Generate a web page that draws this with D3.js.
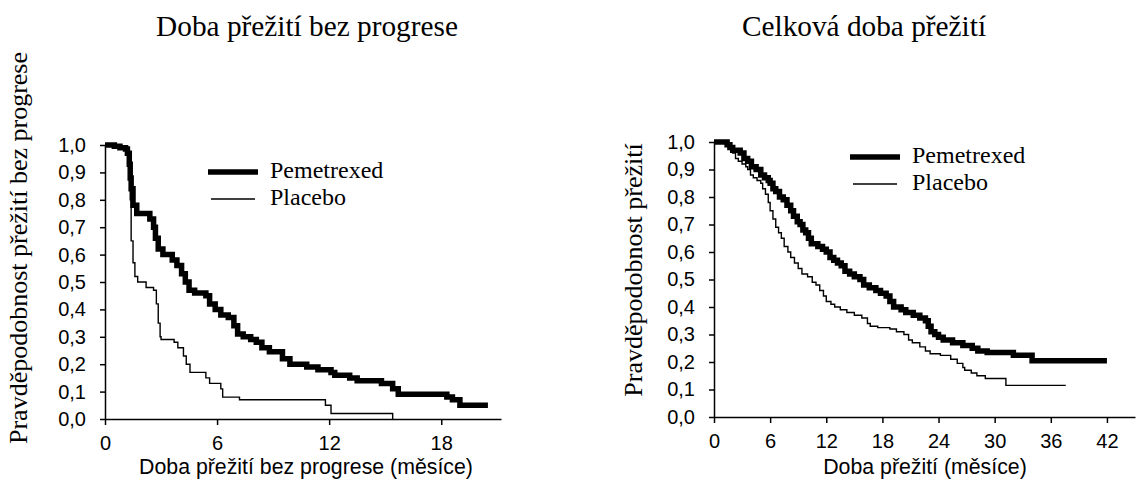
<!DOCTYPE html>
<html><head><meta charset="utf-8">
<script src="https://cdn.jsdelivr.net/npm/d3@7"></script>
<style>body{margin:0;background:#fff}</style>
</head><body>
<svg id="c" width="1137" height="483"></svg>
<script>
// ---- Data (months, survival probability) ----
const pfsPemetrexed = [[0,1.0],[0.5,0.995],[0.8,0.99],[1.1,0.985],[1.2,0.97],[1.3,0.93],[1.35,0.88],[1.4,0.84],[1.5,0.78],[1.7,0.75],[2.4,0.73],[2.6,0.70],[2.7,0.66],[2.85,0.62],[3.1,0.60],[3.6,0.58],[3.85,0.56],[4.1,0.53],[4.3,0.50],[4.5,0.47],[4.8,0.46],[5.4,0.45],[5.6,0.42],[5.9,0.40],[6.2,0.38],[6.6,0.37],[6.9,0.34],[7.1,0.31],[7.4,0.30],[7.8,0.29],[8.1,0.28],[8.4,0.26],[8.8,0.245],[9.5,0.22],[9.9,0.20],[10.8,0.19],[11.4,0.18],[12.1,0.17],[12.3,0.16],[13.1,0.15],[13.5,0.14],[14.8,0.13],[15.4,0.11],[15.7,0.09],[18.3,0.08],[18.6,0.07],[19.0,0.05],[20.5,0.05]];
const pfsPlacebo = [[0,1.0],[0.5,0.995],[0.8,0.99],[1.1,0.985],[1.25,0.97],[1.35,0.8],[1.4,0.65],[1.5,0.57],[1.6,0.52],[1.75,0.50],[2.2,0.48],[2.6,0.47],[2.75,0.42],[2.85,0.35],[2.95,0.30],[3.0,0.29],[3.7,0.28],[3.9,0.26],[4.2,0.23],[4.35,0.20],[4.55,0.17],[5.4,0.15],[5.6,0.13],[6.2,0.11],[6.3,0.08],[7.2,0.07],[11.8,0.05],[12.1,0.02],[15.4,0.0]];
const osPemetrexed = [[0,1.0],[1.4,0.99],[1.7,0.98],[2.0,0.97],[2.8,0.96],[3.2,0.94],[3.6,0.93],[4.0,0.91],[4.5,0.90],[5.0,0.88],[5.4,0.87],[5.8,0.86],[6.0,0.85],[6.3,0.83],[6.6,0.82],[7.0,0.80],[7.4,0.79],[7.8,0.77],[8.2,0.75],[8.5,0.73],[8.9,0.71],[9.2,0.70],[9.5,0.68],[9.8,0.67],[10.1,0.65],[10.4,0.63],[11.1,0.62],[11.6,0.61],[12.0,0.60],[12.4,0.58],[12.8,0.57],[13.2,0.56],[13.6,0.55],[14.0,0.53],[14.5,0.52],[15.0,0.51],[15.6,0.50],[16.0,0.48],[16.6,0.47],[17.3,0.46],[17.8,0.45],[18.4,0.44],[18.8,0.42],[19.2,0.40],[20.0,0.39],[20.5,0.38],[21.3,0.37],[22.0,0.36],[22.6,0.35],[22.9,0.33],[23.2,0.31],[23.6,0.30],[24.0,0.29],[24.5,0.28],[25.5,0.27],[26.6,0.26],[27.6,0.25],[28.2,0.24],[29.2,0.235],[32.0,0.225],[34.0,0.205],[42.0,0.205]];
const osPlacebo = [[0,1.0],[1.3,0.99],[1.6,0.98],[2.0,0.96],[2.3,0.94],[2.6,0.93],[3.0,0.92],[3.4,0.91],[3.6,0.90],[3.9,0.88],[4.2,0.87],[4.6,0.86],[5.0,0.85],[5.2,0.83],[5.5,0.81],[5.8,0.78],[6.0,0.75],[6.3,0.72],[6.6,0.69],[6.9,0.67],[7.2,0.65],[7.5,0.62],[7.9,0.60],[8.2,0.58],[8.6,0.56],[9.0,0.54],[9.4,0.52],[10.0,0.51],[10.5,0.49],[10.9,0.48],[11.3,0.46],[11.7,0.44],[12.0,0.42],[12.5,0.41],[12.9,0.40],[13.5,0.39],[14.2,0.38],[15.0,0.37],[15.8,0.36],[16.4,0.34],[16.7,0.33],[17.5,0.325],[18.8,0.32],[19.5,0.31],[20.3,0.30],[20.8,0.28],[21.2,0.27],[22.0,0.255],[22.6,0.24],[23.1,0.23],[24.2,0.224],[25.3,0.21],[26.0,0.195],[26.6,0.18],[26.8,0.17],[27.5,0.16],[28.1,0.15],[29.0,0.14],[31.2,0.115],[37.6,0.115]];

const yTicks = [0,0.1,0.2,0.3,0.4,0.5,0.6,0.7,0.8,0.9,1.0];
const pfsXTicks = [0,6,12,18];
const osXTicks = [0,6,12,18,24,30,36,42];
const seriesNames = ["Pemetrexed","Placebo"];
const titles = ["Doba přežití bez progrese","Celková doba přežití"];
const yTitles = ["Pravděpodobnost přežití bez progrese","Pravděpodobnost přežití"];
const xTitles = ["Doba přežití bez progrese (měsíce)","Doba přežití (měsíce)"];

const SERIF = "'Liberation Serif','Times New Roman',serif";
const SANS = "'Liberation Sans',Arial,sans-serif";
const svg = d3.select("#c");
const fmt = d => d3.format(".1f")(d).replace(".", ",");

const panels = [
  {x0:105, x1:501, xMax:21.2, yTop:145, yBot:419, xTicks:pfsXTicks, data:[pfsPemetrexed,pfsPlacebo],
   title:titles[0], titleX:307, yTitle:yTitles[0], yTitleX:27, yTitleY:248, xTitle:xTitles[0], xTitleX:306,
   legX:208, legY:[172,199], legTxtX:270},
  {x0:714, x1:1135, xMax:45, yTop:142, yBot:417, xTicks:osXTicks, data:[osPemetrexed,osPlacebo],
   title:titles[1], titleX:864, yTitle:yTitles[1], yTitleX:642, yTitleY:270, xTitle:xTitles[1], xTitleX:925,
   legX:850, legY:[157,184], legTxtX:912}
];

panels.forEach(p => {
  const x = d3.scaleLinear().domain([0,p.xMax]).range([p.x0,p.x1]);
  const y = d3.scaleLinear().domain([0,1]).range([p.yBot,p.yTop]);
  const g = svg.append("g");

  const xa = g.append("g").attr("transform",`translate(0,${p.yBot})`)
    .call(d3.axisBottom(x).tickValues(p.xTicks).tickSize(6).tickSizeOuter(0).tickPadding(11).tickFormat(d3.format("d")));
  const ya = g.append("g").attr("transform",`translate(${p.x0},0)`)
    .call(d3.axisLeft(y).tickValues(yTicks).tickSize(5).tickSizeOuter(0).tickPadding(14).tickFormat(fmt));
  [xa,ya].forEach(a => {
    a.selectAll("path,line").attr("stroke","#000").attr("stroke-width",1.5);
    a.selectAll("text").attr("font-family",SANS).attr("font-size",20).attr("fill","#000");
  });

  const line = d3.line().x(d=>x(d[0])).y(d=>y(d[1])).curve(d3.curveStepAfter);
  const widths = [5.5,1.4];
  p.data.forEach((s,i) => {
    g.append("path").datum(s).attr("d",line).attr("fill","none")
     .attr("stroke","#000").attr("stroke-width",widths[i]);
  });

  // legend
  seriesNames.forEach((n,i) => {
    g.append("line").attr("x1",p.legX+(i?3:0)).attr("x2",p.legX+50-(i?3:0))
      .attr("y1",p.legY[i]).attr("y2",p.legY[i]).attr("stroke","#000").attr("stroke-width",widths[i]);
    g.append("text").attr("x",p.legTxtX).attr("y",p.legY[i]+6).text(n)
      .attr("font-family",SERIF).attr("font-size",24).attr("fill","#000");
  });

  g.append("text").attr("x",p.titleX).attr("y",36).attr("text-anchor","middle").text(p.title)
    .attr("font-family",SERIF).attr("font-size",29.3).attr("fill","#000");
  g.append("text").attr("transform",`translate(${p.yTitleX},${p.yTitleY}) rotate(-90)`).attr("text-anchor","middle")
    .text(p.yTitle).attr("font-family",SERIF).attr("font-size",26).attr("fill","#000");
  g.append("text").attr("x",p.xTitleX).attr("y",474).attr("text-anchor","middle").text(p.xTitle)
    .attr("font-family",SANS).attr("font-size",21.3).attr("fill","#000");
});
</script>
</body></html>
